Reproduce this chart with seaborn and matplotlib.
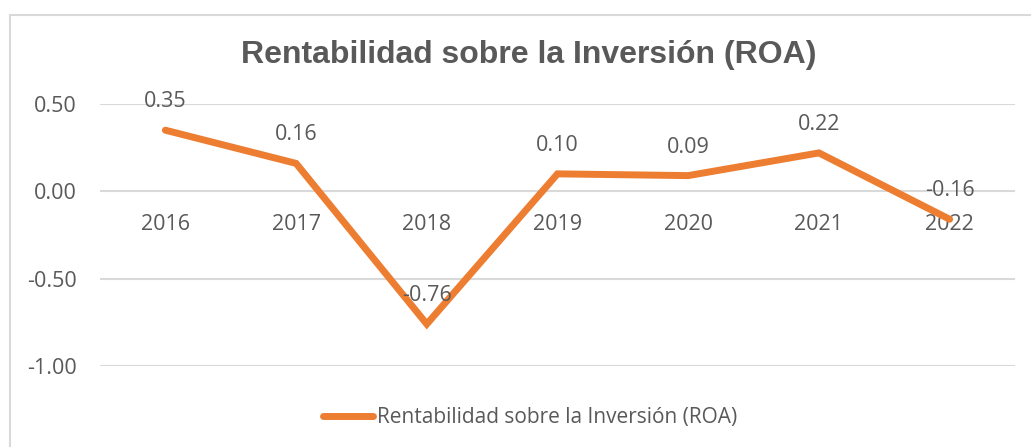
import matplotlib
matplotlib.use("Agg")
import matplotlib.pyplot as plt
import seaborn as sns
import pandas as pd
from matplotlib.lines import Line2D

years = ["2016", "2017", "2018", "2019", "2020", "2021", "2022"]
roa = [0.35, 0.16, -0.76, 0.10, 0.09, 0.22, -0.16]
yticks = [0.50, 0.00, -0.50, -1.00]
series_name = "Rentabilidad sobre la Inversión (ROA)"

sns.set_theme(style="white")
plt.rcParams['font.family'] = ['Open Sans', 'DejaVu Sans']

W, H = 1031, 447
fig = plt.figure(figsize=(W / 100, H / 100), dpi=100)
ax = fig.add_axes([100 / W, 1 - 366 / H, 915 / W, 262 / H])

df = pd.DataFrame({"year": years, "roa": roa})
df["x"] = range(len(years))
orange = "#ED7D31"
grey = "#595959"

sns.lineplot(data=df, x="x", y="roa", ax=ax, color=orange, linewidth=5,
             solid_capstyle="round", solid_joinstyle="miter", legend=False, zorder=3)

ax.set_xlim(-0.5, len(years) - 0.5)
ax.set_ylim(-1.0, 0.5)
ax.set_yticks(yticks)
ax.set_yticklabels([f"{v:.2f}" for v in yticks])
ax.yaxis.grid(True, color="#D9D9D9", linewidth=1.5)
ax.set_axisbelow(True)
ax.set_xticks(df["x"])
ax.set_xticklabels(years)
for s in ["top", "right", "left"]:
    ax.spines[s].set_visible(False)
ax.spines["bottom"].set_position(("data", 0))
ax.spines["bottom"].set_visible(False)
ax.tick_params(axis="x", length=0, pad=16, labelsize=15.5, labelcolor=grey)
ax.tick_params(axis="y", length=0, pad=17, labelsize=15.5, labelcolor=grey)
ax.set_xlabel("")
ax.set_ylabel("")

for xi, v in zip(df["x"], roa):
    ax.annotate(f"{v:.2f}", (xi, v), xytext=(0, 20.5), textcoords="offset points",
                ha="center", va="center", fontsize=15.5, color=grey, zorder=4)

fig.text(529 / W, 1 - 55 / H, series_name, ha="center", va="center",
         fontsize=23, fontweight="bold", color=grey, family=["Liberation Sans", "DejaVu Sans"])

handle = Line2D([], [], color=orange, linewidth=5, solid_capstyle="round")
fig.legend([handle], [series_name], loc="center", bbox_to_anchor=(530 / W, 1 - 418 / H),
           frameon=False, fontsize=15, labelcolor=grey, handlelength=2.4, handletextpad=0.2)

# chart border (top and left visible)
fig.add_artist(Line2D([10 / W, 1], [1 - 15 / H, 1 - 15 / H], color="#D9D9D9", linewidth=1.5,
                      transform=fig.transFigure))
fig.add_artist(Line2D([10 / W, 10 / W], [0, 1 - 15 / H], color="#D9D9D9", linewidth=1.5,
                      transform=fig.transFigure))

fig.savefig("out.png", dpi=100)
